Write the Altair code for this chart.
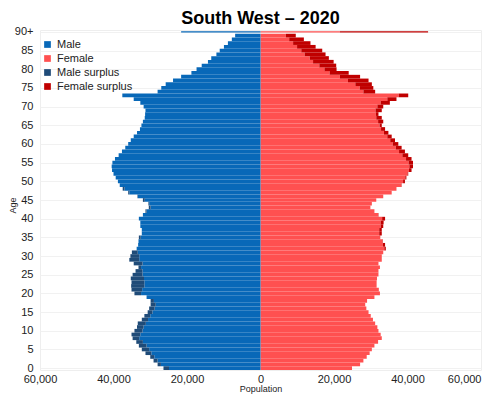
import altair as alt
import pandas as pd

# Age 0..89 and "90+" (index 90)
ages = list(range(91))

male = [
    26400, 28000, 29100, 30000, 31300, 32300, 33100, 33800, 34800, 35100,   # 0-9
    34300, 33600, 33400, 32300, 31600, 30700, 30300, 29900, 29900, 31000,   # 10-19
    34300, 35100, 35200, 35100, 35300, 34800, 34000, 33200, 34500, 35700,   # 20-29
    35400, 35000, 33700, 33300, 33200, 33100, 32300, 32300, 32700, 32700,   # 30-39
    33100, 32000, 31300, 30400, 30500, 32000, 33500, 36000, 37500, 38300,   # 40-49
    38800, 39400, 40000, 40400, 40500, 40300, 39600, 38600, 37700, 36800,   # 50-59
    36000, 35300, 34500, 33600, 32800, 32400, 32000, 31500, 31400, 31300,   # 60-69
    31800, 32700, 34500, 37600, 28000, 27000, 25800, 23800, 21600, 18800,   # 70-79
    17400, 16000, 14300, 13400, 12000, 11100, 9950, 8870, 7800, 6900,       # 80-89
    21600,                                                                  # 90+
]

female = [
    24900, 27100, 28000, 28900, 29700, 30300, 31000, 32000, 33000, 32700,   # 0-9
    32100, 31800, 31200, 30600, 30000, 29400, 28800, 28500, 29000, 31000,   # 10-19
    32500, 32200, 31600, 31600, 31700, 32100, 32100, 32500, 32100, 33000,   # 20-29
    33000, 33400, 34100, 33900, 33300, 32600, 33000, 33000, 33400, 33500,   # 30-39
    33900, 32100, 31000, 29900, 30300, 31500, 33400, 35700, 37000, 38400,   # 40-49
    39300, 39700, 40200, 41100, 41500, 41500, 41100, 40200, 39300, 38400,   # 50-59
    37500, 36600, 35700, 34800, 33900, 33000, 33400, 33000, 32100, 33000,   # 60-69
    33400, 35200, 37000, 40200, 31200, 30700, 30300, 29400, 27100, 24000,   # 70-79
    20700, 20600, 19900, 18600, 17700, 16800, 15000, 13600, 11800, 9600,    # 80-89
    45600,                                                                  # 90+
]

series = ["Male", "Female", "Male surplus", "Female surplus"]
colors = ["#0868b8", "#ff5050", "#1f4b78", "#c00000"]
age_ticks = list(range(0, 91, 5))
pop_ticks = list(range(-60000, 60001, 20000))

rows = []
for a, m, f in zip(ages, male, female):
    lo = min(m, f)
    rows.append({"age": a, "series": "Male", "start": -lo, "end": 0})
    rows.append({"age": a, "series": "Female", "start": 0, "end": lo})
    if m > f:
        rows.append({"age": a, "series": "Male surplus", "start": -m, "end": -lo})
    if f > m:
        rows.append({"age": a, "series": "Female surplus", "start": lo, "end": f})
df = pd.DataFrame(rows)

FONT = "Liberation Sans"

chart = (
    alt.Chart(df)
    .transform_calculate(
        half="datum.age == 90 ? 0.17 : 0.5",
    )
    .transform_calculate(
        y_lo="datum.age - datum.half",
        y_hi="datum.age + datum.half",
    )
    .mark_bar(strokeWidth=0)
    .encode(
        x=alt.X(
            "start:Q",
            scale=alt.Scale(domain=[-60000, 60000], nice=False, zero=False),
            axis=alt.Axis(
                values=pop_ticks,
                labelExpr="format(abs(datum.value), ',')",
                labelFlush=False,
                labelAlign={
                    "condition": {"test": "datum.value == 60000", "value": "right"},
                    "value": "center",
                },
                grid=False,
                domain=False,
                ticks=False,
                labelPadding=3,
                labelFontSize=11,
                labelColor="#222222",
                title="Population",
                titleFontSize=9,
                titleFontWeight="normal",
                titlePadding=0,
                titleColor="#222222",
            ),
        ),
        x2="end:Q",
        y=alt.Y(
            "y_lo:Q",
            scale=alt.Scale(domain=[-0.5, 90.5], nice=False, zero=False),
            axis=alt.Axis(
                values=age_ticks,
                labelExpr="datum.value == 90 ? '90+' : datum.value",
                grid=True,
                gridColor="#f1f1f1",
                domain=False,
                ticks=False,
                labelPadding=7,
                labelFontSize=11,
                labelColor="#222222",
                title="Age",
                titleFontSize=9,
                titleFontWeight="normal",
                titleColor="#222222",
                titleX=-28,
                titleY=175,
                titleAngle=270,
                titleAlign="center",
                titleBaseline="middle",
            ),
        ),
        y2="y_hi:Q",
        color=alt.Color(
            "series:N",
            scale=alt.Scale(domain=series, range=colors),
            legend=alt.Legend(
                title=None,
                orient="none",
                legendX=2,
                legendY=9,
                symbolType="square",
                symbolSize=45,
                symbolStrokeWidth=0,
                labelFontSize=11,
                labelColor="#222222",
                rowPadding=2,
                labelOffset=4,
            ),
        ),
        order=alt.Order("series:N"),
    )
    .properties(
        width=441,
        height=340,
        title=alt.TitleParams(
            "South West – 2020",
            fontSize=18,
            fontWeight="bold",
            anchor="middle",
            frame="group",
            offset=6,
            dy=8,
            color="#000000",
        ),
        autosize=alt.AutoSizeParams(type="none"),
        padding={"left": 32, "top": 22, "right": 11, "bottom": 24},
    )
    .configure(font=FONT)
    .configure_view(stroke="#eeeeee")
)

chart.save("out.html", embed_options={"renderer": "svg", "actions": False})
